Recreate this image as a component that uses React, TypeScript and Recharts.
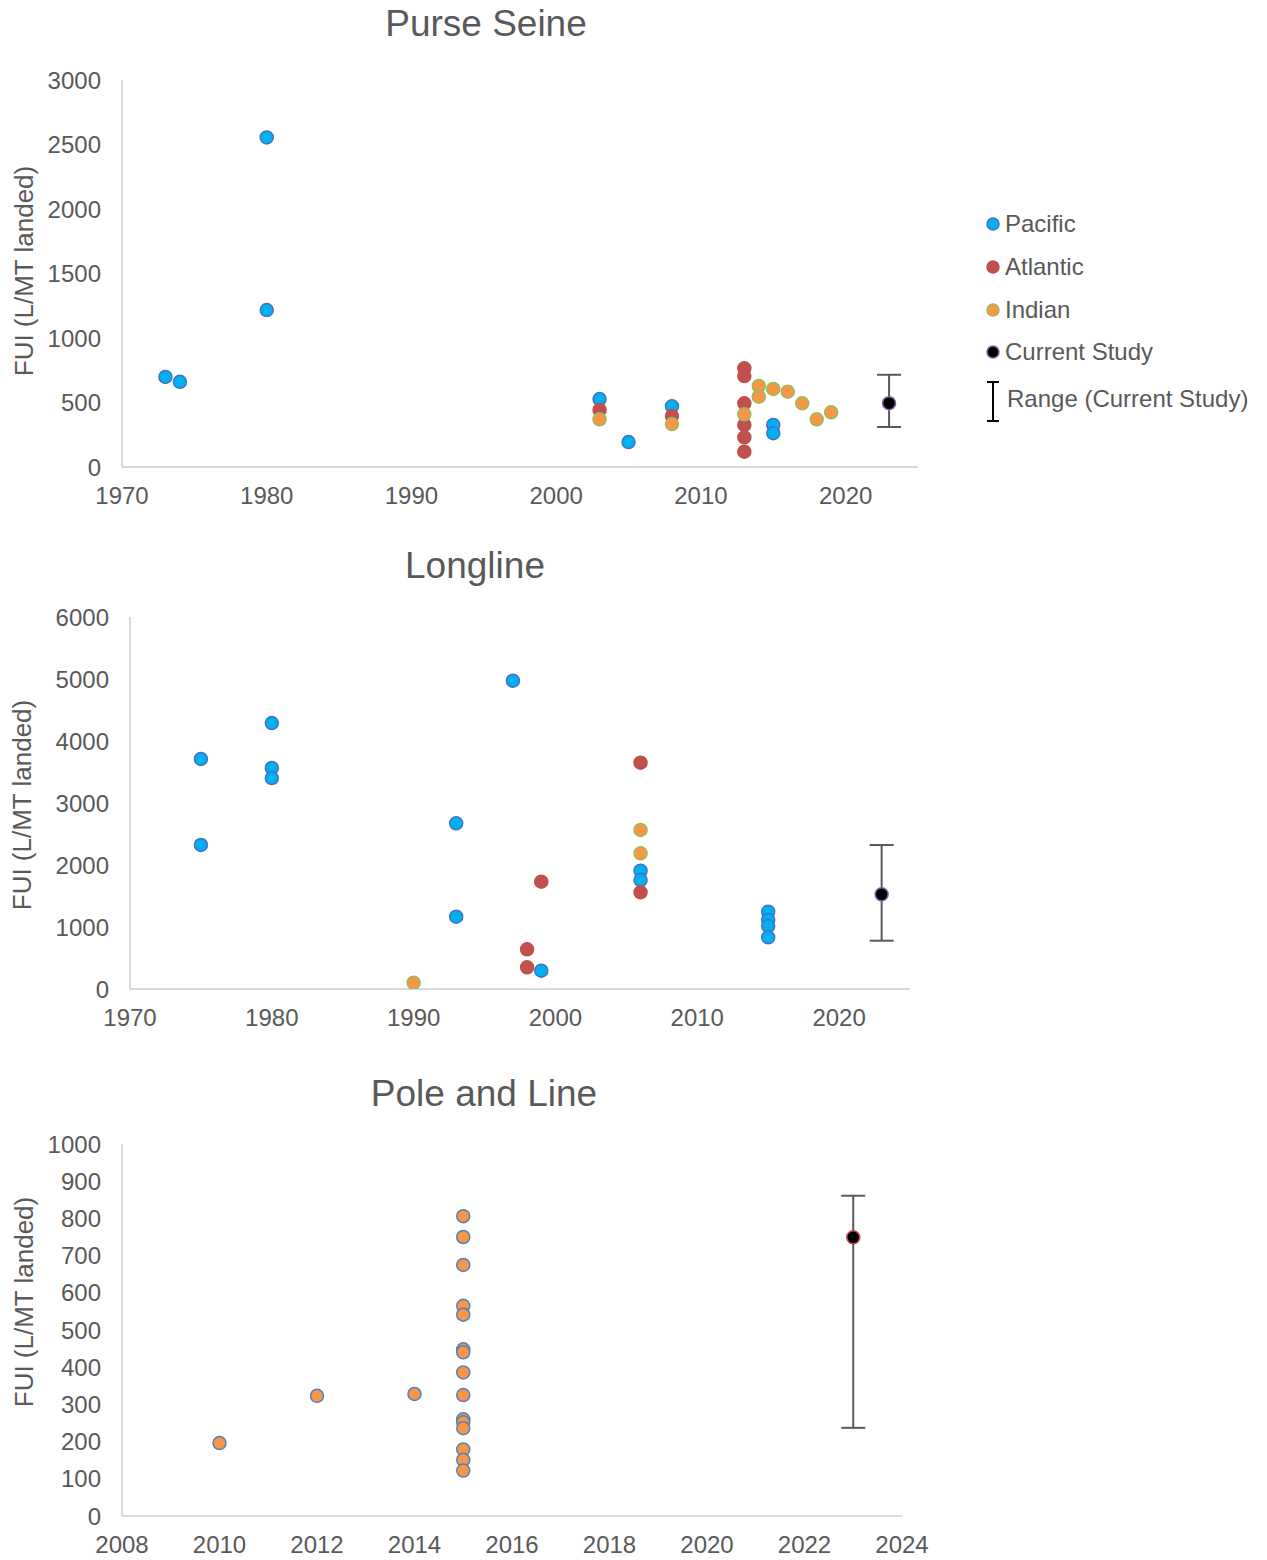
import React from 'react';
import { ScatterChart, Scatter, XAxis, YAxis, ErrorBar } from 'recharts';

// Purse Seine
const psPacificYear = [1973, 1974, 1980, 1980, 2003, 2005, 2008, 2015, 2015];
const psPacificFui = [698, 660, 2555, 1217, 527, 193, 470, 326, 262];
const psAtlanticYear = [2003, 2008, 2013, 2013, 2013, 2013, 2013, 2013];
const psAtlanticFui = [442, 395, 765, 705, 494, 326, 230, 119];
const psIndianYear = [2003, 2008, 2013, 2014, 2014, 2015, 2016, 2017, 2018, 2019];
const psIndianFui = [370, 333, 408, 628, 545, 605, 584, 494, 370, 424];
const psCurrent = { year: 2023, fui: 495, low: 310, high: 715 };
const psYTicks = [0, 500, 1000, 1500, 2000, 2500, 3000];

// Longline
const llPacificYear = [1975, 1975, 1980, 1980, 1980, 1993, 1993, 1997, 1999, 2006, 2006, 2015, 2015, 2015, 2015];
const llPacificFui = [3710, 2323, 4290, 3565, 3403, 2672, 1166, 4973, 296, 1909, 1758, 1247, 1113, 1016, 833];
const llAtlanticYear = [1998, 1998, 1999, 2006, 2006];
const llAtlanticFui = [640, 350, 1731, 3650, 1559];
const llIndianYear = [1990, 2006, 2006];
const llIndianFui = [102, 2565, 2188];
const llCurrent = { year: 2023, fui: 1527, low: 779, high: 2323 };
const llYTicks = [0, 1000, 2000, 3000, 4000, 5000, 6000];

const decadeTicks = [1970, 1980, 1990, 2000, 2010, 2020];

// Pole and Line
const plYear = [2010, 2012, 2014, 2015, 2015, 2015, 2015, 2015, 2015, 2015, 2015, 2015, 2015, 2015, 2015, 2015, 2015, 2015];
const plFui = [196, 323, 328, 806, 750, 675, 565, 541, 448, 440, 386, 325, 260, 252, 236, 179, 151, 122];
const plCurrent = { year: 2023, fui: 749, low: 237, high: 861 };
const plXTicks = [2008, 2010, 2012, 2014, 2016, 2018, 2020, 2022, 2024];
const plYTicks = [0, 100, 200, 300, 400, 500, 600, 700, 800, 900, 1000];

const FONT = '"Liberation Sans", Arial, sans-serif';
const TEXT = '#595959';
const AXIS = '#d9d9d9';

const zip = (xs: number[], ys: number[]) => xs.map((x, i) => ({ x, y: ys[i] }));
const current = (c: { year: number; fui: number; low: number; high: number }) => [
  { x: c.year, y: c.fui, err: [c.fui - c.low, c.high - c.fui] },
];

const dot = (fill: string, stroke: string) => (props: any) => (
  <circle cx={props.cx} cy={props.cy} r={6.5} fill={fill} stroke={stroke} strokeWidth={1.5} />
);

const PACIFIC = dot('#00B0F0', '#4472C4');
const ATLANTIC = dot('#C0504D', '#C0504D');
const INDIAN = dot('#F79646', '#9BBB59');
const CURRENT = dot('#000000', '#8064A2');
const POLE = dot('#F79646', '#4F81BD');
const POLE_CURRENT = dot('#000000', '#C0504D');

const tickStyle = { fontSize: 24, fill: TEXT, fontFamily: FONT };

interface PanelProps {
  top: number;
  height: number;
  margin: { top: number; right: number; bottom: number; left: number };
  xDomain: [number, number];
  xTicks: number[];
  yDomain: [number, number];
  yTicks: number[];
  children: React.ReactNode;
}

const Panel: React.FC<PanelProps> = ({ top, height, margin, xDomain, xTicks, yDomain, yTicks, children }) => (
  <div style={{ position: 'absolute', left: 0, top }}>
    <ScatterChart width={1267} height={height} margin={margin}>
      <XAxis
        type="number"
        dataKey="x"
        domain={xDomain}
        ticks={xTicks}
        height={40}
        tickLine={false}
        tickSize={0}
        tickMargin={20}
        axisLine={{ stroke: AXIS, strokeWidth: 2 }}
        tick={tickStyle}
        allowDataOverflow
      />
      <YAxis
        type="number"
        dataKey="y"
        domain={yDomain}
        ticks={yTicks}
        width={120}
        tickLine={false}
        tickSize={0}
        tickMargin={21}
        axisLine={{ stroke: AXIS, strokeWidth: 2 }}
        tick={tickStyle}
        allowDataOverflow
      />
      {children}
    </ScatterChart>
  </div>
);

const Title: React.FC<{ text: string; cx: number; cy: number }> = ({ text, cx, cy }) => (
  <div
    style={{
      position: 'absolute', left: cx, top: cy, transform: 'translate(-50%, -50%)',
      fontSize: 37, color: TEXT, fontFamily: FONT, whiteSpace: 'nowrap', lineHeight: 1,
    }}
  >
    {text}
  </div>
);

const YLabel: React.FC<{ cx: number; cy: number }> = ({ cx, cy }) => (
  <div
    style={{
      position: 'absolute', left: cx, top: cy, transform: 'translate(-50%, -50%) rotate(-90deg)',
      fontSize: 26, color: TEXT, fontFamily: FONT, whiteSpace: 'nowrap', lineHeight: 1,
    }}
  >
    FUI (L/MT landed)
  </div>
);

const legendItems = [
  { name: 'Pacific', fill: '#00B0F0', stroke: '#4472C4', y: 224 },
  { name: 'Atlantic', fill: '#C0504D', stroke: '#C0504D', y: 267 },
  { name: 'Indian', fill: '#F79646', stroke: '#9BBB59', y: 310 },
  { name: 'Current Study', fill: '#000000', stroke: '#8064A2', y: 352 },
];

const Legend: React.FC = () => (
  <>
    <svg style={{ position: 'absolute', left: 980, top: 210 }} width={30} height={220}>
      {legendItems.map((it) => (
        <circle key={it.name} cx={13} cy={it.y - 210} r={6} fill={it.fill} stroke={it.stroke} strokeWidth={1.5} />
      ))}
      <line x1={13} x2={13} y1={382 - 210} y2={421 - 210} stroke="#000" strokeWidth={2} />
      <line x1={7} x2={19} y1={382 - 210} y2={382 - 210} stroke="#000" strokeWidth={2} />
      <line x1={7} x2={19} y1={421 - 210} y2={421 - 210} stroke="#000" strokeWidth={2} />
    </svg>
    {legendItems.map((it) => (
      <div
        key={it.name}
        style={{
          position: 'absolute', left: 1005, top: it.y, transform: 'translateY(-50%)',
          fontSize: 24, color: TEXT, fontFamily: FONT, whiteSpace: 'nowrap', lineHeight: 1,
        }}
      >
        {it.name}
      </div>
    ))}
    <div
      style={{
        position: 'absolute', left: 1007, top: 399, transform: 'translateY(-50%)',
        fontSize: 24, color: TEXT, fontFamily: FONT, whiteSpace: 'nowrap', lineHeight: 1,
      }}
    >
      Range (Current Study)
    </div>
  </>
);

const App: React.FC = () => (
  <div style={{ position: 'absolute', left: 0, top: 0, width: 1267, height: 1560, background: '#fff' }}>
    <Title text="Purse Seine" cx={486} cy={23} />
    <YLabel cx={24} cy={271} />
    <Panel
      top={0}
      height={530}
      margin={{ top: 80, right: 349, bottom: 23, left: 2 }}
      xDomain={[1970, 2025]}
      xTicks={decadeTicks}
      yDomain={[0, 3000]}
      yTicks={psYTicks}
    >
      <Scatter data={zip(psPacificYear, psPacificFui)} shape={PACIFIC} isAnimationActive={false} />
      <Scatter data={zip(psAtlanticYear, psAtlanticFui)} shape={ATLANTIC} isAnimationActive={false} />
      <Scatter data={zip(psIndianYear, psIndianFui)} shape={INDIAN} isAnimationActive={false} />
      <Scatter data={current(psCurrent)} shape={CURRENT} isAnimationActive={false}>
        <ErrorBar dataKey="err" direction="y" width={12} stroke="#595959" strokeWidth={2} isAnimationActive={false} />
      </Scatter>
    </Panel>
    <Legend />

    <Title text="Longline" cx={475} cy={565} />
    <YLabel cx={22} cy={805} />
    <Panel
      top={540}
      height={500}
      margin={{ top: 77, right: 357, bottom: 11, left: 10 }}
      xDomain={[1970, 2025]}
      xTicks={decadeTicks}
      yDomain={[0, 6000]}
      yTicks={llYTicks}
    >
      <Scatter data={zip(llPacificYear, llPacificFui)} shape={PACIFIC} isAnimationActive={false} />
      <Scatter data={zip(llAtlanticYear, llAtlanticFui)} shape={ATLANTIC} isAnimationActive={false} />
      <Scatter data={zip(llIndianYear, llIndianFui)} shape={INDIAN} isAnimationActive={false} />
      <Scatter data={current(llCurrent)} shape={CURRENT} isAnimationActive={false}>
        <ErrorBar dataKey="err" direction="y" width={12} stroke="#595959" strokeWidth={2} isAnimationActive={false} />
      </Scatter>
    </Panel>

    <Title text="Pole and Line" cx={484} cy={1093} />
    <YLabel cx={24} cy={1302} />
    <Panel
      top={1070}
      height={490}
      margin={{ top: 74, right: 365, bottom: 4, left: 2 }}
      xDomain={[2008, 2024]}
      xTicks={plXTicks}
      yDomain={[0, 1000]}
      yTicks={plYTicks}
    >
      <Scatter data={zip(plYear, plFui)} shape={POLE} isAnimationActive={false} />
      <Scatter data={current(plCurrent)} shape={POLE_CURRENT} isAnimationActive={false}>
        <ErrorBar dataKey="err" direction="y" width={12} stroke="#595959" strokeWidth={2} isAnimationActive={false} />
      </Scatter>
    </Panel>
  </div>
);

export default App;
